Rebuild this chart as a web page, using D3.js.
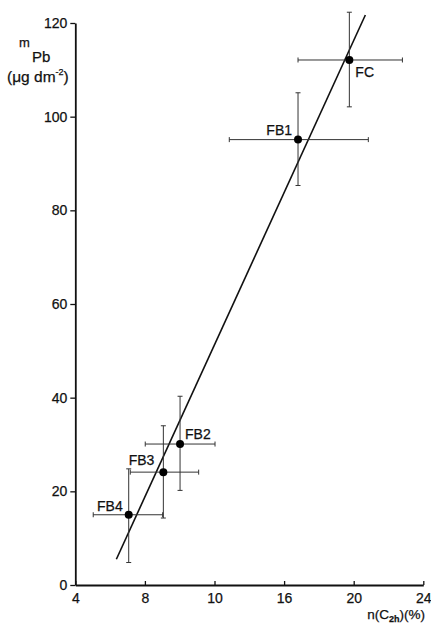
<!DOCTYPE html>
<html>
<head>
<meta charset="utf-8">
<script src="https://cdn.jsdelivr.net/npm/d3@7"></script>
<style>
  html, body { margin: 0; padding: 0; background: #fff; }
  svg { display: block; }
  text { font-family: "Liberation Sans", Arial, Helvetica, sans-serif; fill: #111; stroke: #111; stroke-width: 0.25; }
</style>
</head>
<body>
<svg id="chart" width="431" height="625"></svg>
<script>
// ---- data ----
const labels = ["FC", "FB1", "FB2", "FB3", "FB4"];
const xVals  = [19.75, 16.8, 10.02, 9.06, 7.07];
const yVals  = [112.1, 95.1, 30.1, 24.1, 15.0];
const xLo    = [16.8, 12.85, 8.02, 7.16, 5.03];
const xHi    = [22.8, 20.84, 12.03, 11.09, 9.02];
const yLo    = [102.1, 85.3, 20.2, 14.3, 4.8];
const yHi    = [122.3, 105.1, 40.3, 34.0, 24.8];
const fitX   = [6.36, 20.67];
const fitY   = [5.5, 121.7];
const xTickValues = [4, 8, 12, 16, 20, 24];
const xTickLabels = ["4", "8", "10", "16", "20", "24"];
const yTickValues = [0, 20, 40, 60, 80, 100, 120];

const svg = d3.select("#chart");
const x = d3.scaleLinear().domain([4, 24]).range([75.3, 423.3]);
const y = d3.scaleLinear().domain([0, 120]).range([585, 23]);

// ---- axes ----
const xAxis = d3.axisBottom(x)
  .tickValues(xTickValues)
  .tickFormat((d, i) => xTickLabels[i])
  .tickSizeInner(-4).tickSizeOuter(0).tickPadding(8);
const gx = svg.append("g").attr("transform", `translate(0,${y(0)})`).call(xAxis);

const yAxis = d3.axisLeft(y)
  .tickValues(yTickValues)
  .tickSizeInner(5).tickSizeOuter(0).tickPadding(3);
const gy = svg.append("g").attr("transform", `translate(${x(4)},0)`).call(yAxis);

[gx, gy].forEach(g => {
  g.select(".domain").attr("stroke", "#111").attr("stroke-width", 1.8);
  g.selectAll(".tick line").attr("stroke", "#111").attr("stroke-width", 1.3);
  g.selectAll(".tick text").attr("font-size", 14)
    .attr("font-family", "'Liberation Sans', Arial, sans-serif").attr("fill", "#111");
});

// ---- axis titles ----
const yt = svg.append("g");
yt.append("text").attr("x", 19).attr("y", 47).attr("font-size", 13).text("m");
yt.append("text").attr("x", 32).attr("y", 62).attr("font-size", 15).text("Pb");
const yl = yt.append("text").attr("x", 7).attr("y", 82).attr("font-size", 15.5);
yl.append("tspan").text("(μg dm");
yl.append("tspan").attr("font-size", 9).attr("dy", -7).text("-2");
yl.append("tspan").attr("dy", 7).text(")");

const xl = svg.append("text").attr("x", 425).attr("y", 619)
  .attr("text-anchor", "end").attr("font-size", 13.5);
xl.append("tspan").text("n(C");
xl.append("tspan").attr("font-size", 9).attr("font-weight", "bold").attr("dy", 3).text("2h");
xl.append("tspan").attr("dy", -3).text(")(%)");

// ---- fit line ----
svg.append("line")
  .attr("x1", x(fitX[0])).attr("y1", y(fitY[0]))
  .attr("x2", x(fitX[1])).attr("y2", y(fitY[1]))
  .attr("stroke", "#111").attr("stroke-width", 1.6);

// ---- error bars ----
const cap = 2.5;
const eb = svg.append("g").attr("stroke", "#333").attr("stroke-width", 1);
labels.forEach((l, i) => {
  // horizontal
  eb.append("line").attr("x1", x(xLo[i])).attr("x2", x(xHi[i]))
    .attr("y1", y(yVals[i])).attr("y2", y(yVals[i]));
  eb.append("line").attr("x1", x(xLo[i])).attr("x2", x(xLo[i]))
    .attr("y1", y(yVals[i]) - cap).attr("y2", y(yVals[i]) + cap);
  eb.append("line").attr("x1", x(xHi[i])).attr("x2", x(xHi[i]))
    .attr("y1", y(yVals[i]) - cap).attr("y2", y(yVals[i]) + cap);
  // vertical
  eb.append("line").attr("x1", x(xVals[i])).attr("x2", x(xVals[i]))
    .attr("y1", y(yLo[i])).attr("y2", y(yHi[i]));
  eb.append("line").attr("x1", x(xVals[i]) - cap).attr("x2", x(xVals[i]) + cap)
    .attr("y1", y(yLo[i])).attr("y2", y(yLo[i]));
  eb.append("line").attr("x1", x(xVals[i]) - cap).attr("x2", x(xVals[i]) + cap)
    .attr("y1", y(yHi[i])).attr("y2", y(yHi[i]));
});

// ---- points ----
svg.append("g").selectAll("circle").data(labels).join("circle")
  .attr("cx", (d, i) => x(xVals[i])).attr("cy", (d, i) => y(yVals[i]))
  .attr("r", 4).attr("fill", "#000");

// ---- point labels ----
const labelOffsets = {
  FC:  { dx: 6,  dy: 17, anchor: "start" },
  FB1: { dx: -6, dy: -5, anchor: "end" },
  FB2: { dx: 5,  dy: -5, anchor: "start" },
  FB3: { dx: -9, dy: -7, anchor: "end" },
  FB4: { dx: -6, dy: -4, anchor: "end" }
};
svg.append("g").selectAll("text").data(labels).join("text")
  .attr("x", (d, i) => x(xVals[i]) + labelOffsets[d].dx)
  .attr("y", (d, i) => y(yVals[i]) + labelOffsets[d].dy)
  .attr("text-anchor", d => labelOffsets[d].anchor)
  .attr("font-size", 14)
  .text(d => d);
</script>
</body>
</html>
